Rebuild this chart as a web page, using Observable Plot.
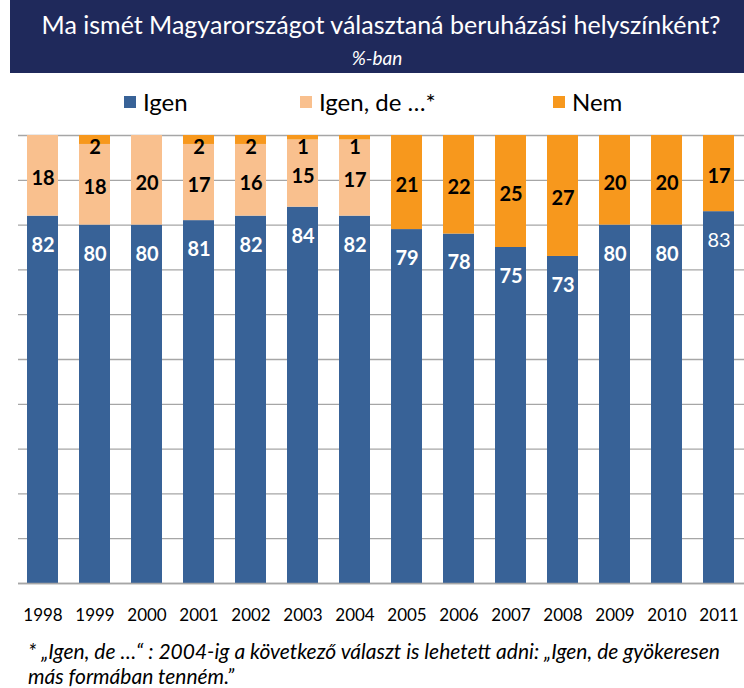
<!DOCTYPE html>
<html><head><meta charset="utf-8">
<script src="https://cdn.jsdelivr.net/npm/d3@7"></script>
<script src="https://cdn.jsdelivr.net/npm/@observablehq/plot@0.6"></script>
<style>
body{margin:0;background:#fff;font-family:Lato,"Open Sans",sans-serif;width:744px;}
#title{margin-left:10px;width:734px;height:73px;background:#1F295B;color:#fff;text-align:center;position:relative;}
#t1{position:absolute;left:8px;right:0;top:9px;font-size:25px;}
#t2{position:absolute;left:0;right:0;top:46px;font-size:19px;font-style:italic;}
#legend{position:relative;height:47px;}
.li{position:absolute;top:14px;font-size:24px;display:flex;align-items:center;}
.sw{width:12px;height:12px;margin-right:7px;}
#foot{font-style:italic;font-size:21px;line-height:25px;margin-left:28px;margin-top:10px;white-space:nowrap;}
</style></head><body>
<div id="title"><div id="t1">Ma ismét Magyarországot választaná beruházási helyszínként?</div><div id="t2">%-ban</div></div>
<div id="legend"></div>
<div id="chart"></div>
<div id="foot">* „Igen, de …“ : 2004-ig a következő választ is lehetett adni: „Igen, de gyökeresen<br>más formában tenném.”</div>
<script>
const years = ["1998","1999","2000","2001","2002","2003","2004","2005","2006","2007","2008","2009","2010","2011"];
const igen   = [82,80,80,81,82,84,82,79,78,75,73,80,80,83];
const igenDe = [18,18,20,17,16,15,17,0,0,0,0,0,0,0];
const nem    = [0,2,0,2,2,1,1,21,22,25,27,20,20,17];
const seriesNames = ["Igen","Igen, de …*","Nem"];
const colors = ["#386297","#F9C08E","#F7981D"];
const legendX = [124,300,553];

const lg = document.getElementById("legend");
seriesNames.forEach((s,i)=>{
  const d = document.createElement("div");
  d.className="li"; d.style.left=legendX[i]+"px";
  d.innerHTML = `<span class="sw" style="background:${colors[i]}"></span>${s}`;
  lg.appendChild(d);
});

const vals = [igen, igenDe, nem];
const data = [];
seriesNames.forEach((s,i)=>years.forEach((y,j)=>data.push({year:y, series:s, value:vals[i][j]})));

const chart = Plot.plot({
  width:744, height:508,
  marginLeft:18, marginRight:0, marginTop:15, marginBottom:45,
  style:{fontFamily:"Lato, 'Open Sans', sans-serif", background:"#fff"},
  x:{domain:years, paddingInner:0.4, paddingOuter:0.18, label:null, tickSize:0, tickPadding:25},
  y:{domain:[0,100], axis:null},
  color:{domain:seriesNames, range:colors},
  marks:[
    Plot.ruleY(d3.range(0,101,10), {stroke:"#A6A6A6", strokeWidth:1.3}),
    Plot.barY(data, {x:"year", y:"value", fill:"series", order:seriesNames}),
    Plot.ruleY([0], {stroke:"#A6A6A6", strokeWidth:1.5}),
    Plot.text(data.filter(d=>d.series==="Igen" && d.year!=="2011"), {x:"year", y:"value", text:"value", dy:29, fill:"white", fontWeight:"bold", fontSize:20}),
    Plot.text(data.filter(d=>d.series==="Igen" && d.year==="2011"), {x:"year", y:"value", text:"value", dy:29, fill:"white", fontSize:20}),
    Plot.text(data.filter(d=>d.value>=5), Plot.stackY({x:"year", y:"value", z:"series", order:seriesNames, text:d=>d.series==="Igen"?"":d.value, fill:"black", fontWeight:"bold", fontSize:20, dy:3})),
    Plot.text(data.filter(d=>d.series==="Nem" && d.value>0 && d.value<5), {x:"year", y:()=>100, text:"value", dy:12, fill:"black", fontWeight:"bold", fontSize:20})
  ]
});
const xa = chart.querySelector('g[aria-label="x-axis tick label"]');
if (xa) { xa.setAttribute("font-size","17"); xa.setAttribute("fill","black"); }
document.getElementById("chart").appendChild(chart);
</script>
</body></html>
